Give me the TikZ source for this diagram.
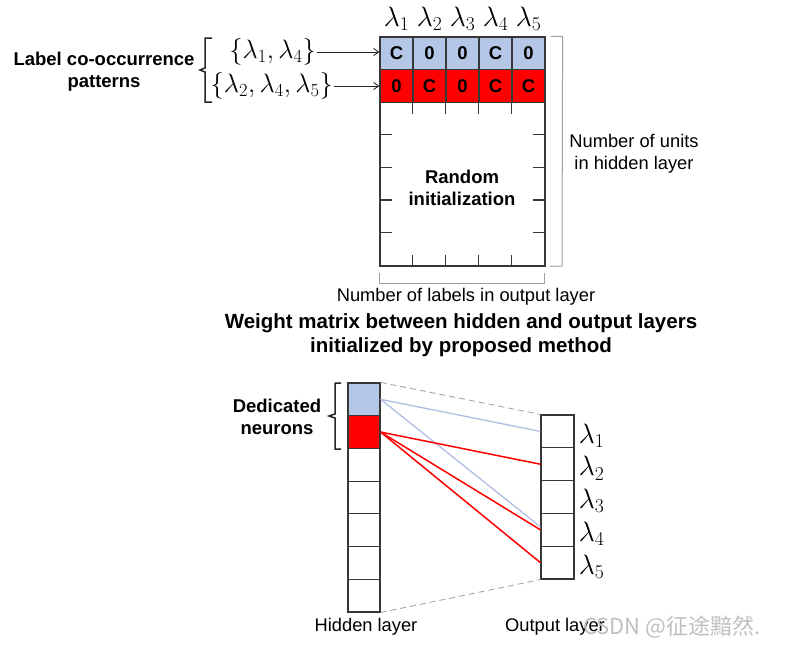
\RequirePackage{fix-cm}
\documentclass[tikz,border=0pt]{standalone}
\usepackage[no-math]{fontspec}
\setmainfont{Liberation Sans}
\newfontfamily\cjk{Noto Sans CJK SC}
\usetikzlibrary{arrows.meta}
\definecolor{lblue}{RGB}{180,199,231}
\definecolor{lred}{RGB}{255,0,0}
\definecolor{gridc}{RGB}{55,55,55}
\definecolor{bline}{RGB}{175,190,225}
\begin{document}
\begin{tikzpicture}[x=1pt,y=-1pt,
  cellbox/.style={draw=gridc, line width=1.2pt, minimum width=33pt, minimum height=32.7pt, inner sep=0pt, font=\fontsize{18.5}{22}\selectfont\bfseries},
  hcell/.style={draw=gridc, line width=1.2pt, minimum width=32pt, minimum height=32.7pt, inner sep=0pt},
  ocell/.style={draw=gridc, line width=1.2pt, minimum width=33pt, minimum height=32.8pt, inner sep=0pt},
  regtext/.style={font=\fontsize{18.3}{22}\selectfont, align=center, inner sep=0pt},
  boldtext/.style={font=\fontsize{18.5}{22}\selectfont\bfseries, align=center, inner sep=0pt},
  titletext/.style={font=\fontsize{20.5}{24}\selectfont\bfseries, align=center, inner sep=0pt},
  mathlbl/.style={font=\fontsize{28}{32}\selectfont, inner sep=1pt},
  setlbl/.style={font=\fontsize{26.5}{30}\selectfont, inner sep=1pt},
  tickline/.style={draw=gridc, line width=1.2pt},
  bracegray/.style={draw=gray!75, line width=1pt},
  braceblack/.style={draw=black!85, line width=1.5pt},
  arr/.style={draw=black!85, line width=0.9pt, -{Straight Barb[length=5pt,width=7pt]}},
  dashline/.style={draw=gray!70, line width=0.9pt, dash pattern=on 6pt off 4pt},
  blueconn/.style={draw=bline, line width=1.3pt},
  redconn/.style={draw=lred, line width=1.5pt}
]
\useasboundingbox (0,0) rectangle (800,651);

% ---------- top weight matrix ----------
\foreach \v [count=\i] in {C,0,0,C,0}
  \node[cellbox, fill=lblue] (a\i) at ({380+33*\i-16.5}, 53.35) {\v};
\foreach \v [count=\i] in {0,C,0,C,C}
  \node[cellbox, fill=lred] (b\i) at ({380+33*\i-16.5}, 86.05) {\v};
\node[draw=gridc, line width=1.2pt, minimum width=165pt, minimum height=163.6pt, inner sep=0pt] (rnd) at (462.5,184.2) {};
\node[boldtext] (rtxt) at (462,187.5) {Random\\initialization};

\foreach \i in {1,...,4} {
  \draw[tickline] (rnd.north west) ++({33*\i},0) -- ++(0,12.6);
  \draw[tickline] (rnd.south west) ++({33*\i},0) -- ++(0,-12);
  \draw[tickline] (rnd.north west) ++(0,{32.7*\i}) -- ++(13,0);
  \draw[tickline] (rnd.north east) ++(0,{32.7*\i}) -- ++(-13,0);
}

\foreach \i in {1,...,5}
  \node[mathlbl, anchor=base] (t\i) at ({380+33*\i-16.5}, 26) {$\lambda_{\i}$};

% pattern sets and arrows
\node[setlbl, anchor=east] (s1) at (317,52) {$\{\lambda_1,\lambda_4\}$};
\node[setlbl, anchor=east] (s2) at (334,86) {$\{\lambda_2,\lambda_4,\lambda_5\}$};
\draw[arr] (s1.east) -- (s1.east -| a1.west);
\draw[arr] (s2.east) -- (s2.east -| b1.west);

\coordinate (lb1) at (212,38);
\coordinate (lb2) at (212,102);
\draw[braceblack] (lb1) -- (205,38) -- (205,68) -- (200,70) -- (205,72) -- (205,102) -- (lb2);
\node[boldtext] (lcp) at (104,72) {Label co-occurrence\\patterns};

% right bracket
\draw[bracegray] (a5.north east) ++(5,0) -- ++(12,0) -- (562,266) -- (550,266);
\node[regtext] (nu) at (634,154) {Number of units\\in hidden layer};

% bottom bracket
\draw[bracegray] (rnd.south west) ++(0,6) -- ++(0,11) -- ++(165,0) -- ++(0,-11);
\node[regtext] (nl) at (466,297) {Number of labels in output layer};

\node[titletext] (ttl) at (461,335) {Weight matrix between hidden and output layers\\initialized by proposed method};

% ---------- bottom network ----------
\node[hcell, fill=lblue] (h1) at (364, 399.35) {};
\node[hcell, fill=lred] (h2) at (364, 432.05) {};
\foreach \k in {3,...,7}
  \node[hcell] (h\k) at (364, {383+32.7*\k-16.35}) {};
\foreach \k in {1,...,5} {
  \node[ocell] (o\k) at (557.5, {415+32.8*\k-16.4}) {};
  \node[mathlbl, anchor=west, xshift=3pt, yshift=-4pt] (l\k) at (o\k.east) {$\lambda_{\k}$};
}

\draw[dashline] (h1.north east) -- (o1.north west);
\draw[dashline] (h7.south east) -- (o5.south west);

\draw[blueconn] (h1.east) -- (o1.west);
\draw[blueconn] (h1.east) -- ([yshift=3pt]o4.west);
\draw[redconn] (h2.east) -- (o2.west);
\draw[redconn] (h2.east) -- (o4.west);
\draw[redconn] (h2.east) -- (o5.west);

\draw[braceblack] (341,383) -- (335,383) -- (335,414) -- (329,416) -- (335,418) -- (335,449) -- (341,449);
\node[boldtext] (ded) at (277,416.5) {Dedicated\\neurons};

\node[regtext] (hl) at (366,627) {Hidden layer};
\node[regtext] (ol) at (555,627) {Output layer};
\node[anchor=west, text=gray!50, font=\cjk\fontsize{22}{26}\selectfont, inner sep=0pt] (wm) at (583,627) {CSDN @征途黯然.};
\end{tikzpicture}
\end{document}
